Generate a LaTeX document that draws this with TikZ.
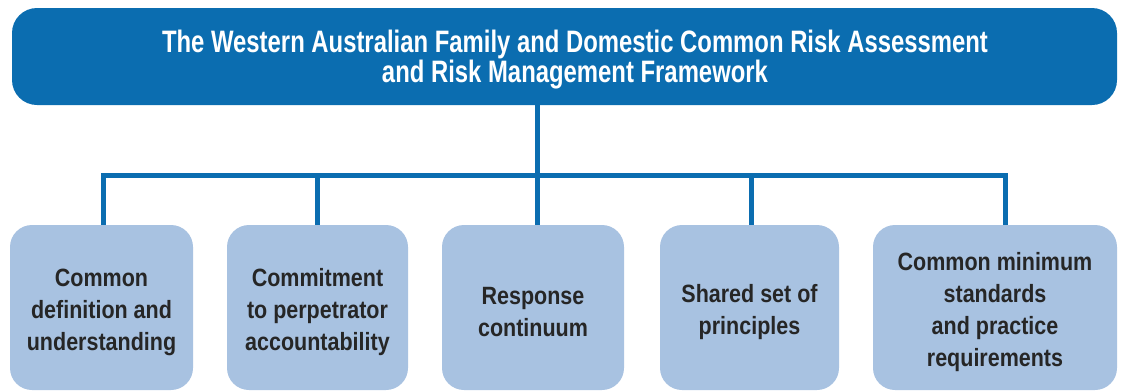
\documentclass[tikz,border=0pt]{standalone}
\usepackage{fontspec}
\newfontfamily\topfont[FakeStretch=0.77]{Liberation Sans}
\newfontfamily\boxfont[FakeStretch=0.86]{Liberation Sans}
\definecolor{frameblue}{HTML}{0B6DB0}
\definecolor{boxblue}{HTML}{A8C2E1}
\definecolor{boxtext}{HTML}{262626}
\begin{document}
\begin{tikzpicture}[x=1pt,y=-1pt,
  headbox/.style={fill=frameblue,rounded corners=25pt,draw=none},
  leafbox/.style={fill=boxblue,rounded corners=22pt,draw=none},
  headtext/.style={text=white,align=center,font=\topfont\bfseries\fontsize{31}{30}\selectfont,inner sep=0pt},
  leaftext/.style={text=boxtext,align=center,font=\boxfont\bfseries\fontsize{25}{32}\selectfont,inner sep=0pt},
  link/.style={draw=frameblue,line width=5pt,line join=miter}]
\useasboundingbox (0,0) rectangle (1123,391);
% head
\node[headbox,minimum width=1105pt,minimum height=97pt,inner sep=0pt] (top) at (564.5,56.5) {};
\node[headtext] (toptext) at (575,60) {The Western Australian Family and Domestic Common Risk Assessment\\and Risk Management Framework};
% leaves
\node[leafbox,minimum width=183pt,minimum height=165pt,inner sep=0pt] (b1) at (101.5,307.5) {};
\node[leafbox,minimum width=181pt,minimum height=165pt,inner sep=0pt] (b2) at (317.5,307.5) {};
\node[leafbox,minimum width=182pt,minimum height=165pt,inner sep=0pt] (b3) at (533,307.5) {};
\node[leafbox,minimum width=179pt,minimum height=165pt,inner sep=0pt] (b4) at (749.5,307.5) {};
\node[leafbox,minimum width=244pt,minimum height=165pt,inner sep=0pt] (b5) at (995,307.5) {};
\node[leaftext] (t1) at (101.5,312) {Common\\definition and\\understanding};
\node[leaftext] (t2) at (317.5,312) {Commitment\\to perpetrator\\accountability};
\node[leaftext] (t3) at (533,312) {Response\\continuum};
\node[leaftext] (t4) at (749.5,312) {Shared set of\\principles};
\node[leaftext] (t5) at (995,312) {Common minimum\\standards\\and practice\\requirements};
% junctions
\coordinate (hub) at (537,175);
\coordinate (j1) at (103,175);
\coordinate (j2) at (317,175);
\coordinate (j4) at (751,175);
\coordinate (j5) at (1005,175);
\path[link] (hub |- top.south) -- (hub);
\path[link] (j1 |- b1.north) |- (j5) -- (j5 |- b5.north);
\path[link] (j2) -- (j2 |- b2.north);
\path[link] (hub) -- (hub |- b3.north);
\path[link] (j4) -- (j4 |- b4.north);
\end{tikzpicture}
\end{document}
